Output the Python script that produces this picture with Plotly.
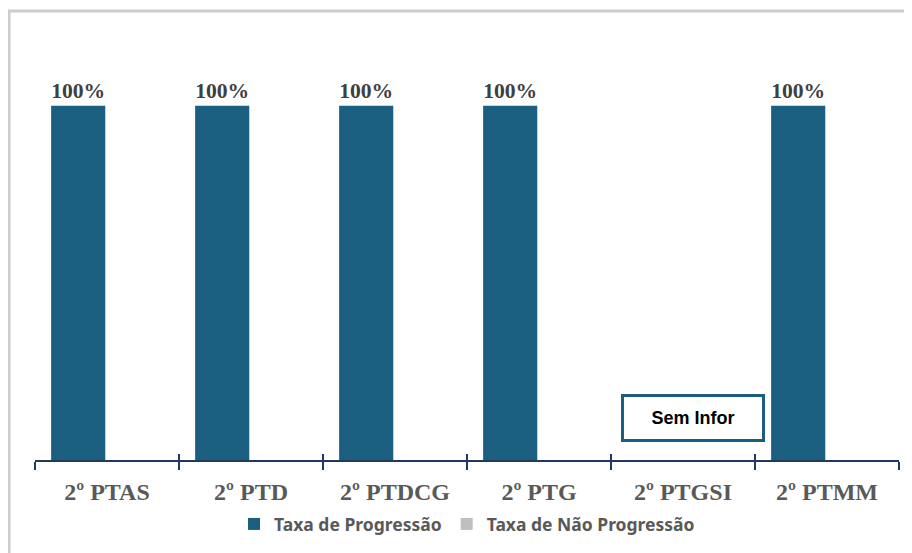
import plotly.graph_objects as go

categories = ["2º PTAS", "2º PTD", "2º PTDCG", "2º PTG", "2º PTGSI", "2º PTMM"]
taxa_progressao = [1.0, 1.0, 1.0, 1.0, None, 1.0]
taxa_nao_progressao = [0.0, 0.0, 0.0, 0.0, None, 0.0]
series_names = ["Taxa de Progressão", "Taxa de Não Progressão"]
sem_info_label = "Sem Infor"
sem_info_category = "2º PTGSI"
sem_info_y = 0.118

BAR = "#1a5f7f"
GREY_BAR = "#bfbfbf"
AXIS = "#1f3864"

fig = go.Figure()
fig.add_trace(go.Bar(
    x=categories, y=taxa_progressao, name=series_names[0],
    marker=dict(color=BAR, line=dict(width=0)),
    texttemplate="%{y:.0%}", textposition="outside", cliponaxis=False,
    textfont=dict(family="Liberation Serif", size=24, color="#404040", weight="bold"),
))
fig.add_trace(go.Bar(
    x=categories, y=taxa_nao_progressao, name=series_names[1],
    marker=dict(color=GREY_BAR, line=dict(width=0)),
))
# helper trace for the inner half of crossing tick marks
fig.add_trace(go.Scatter(x=categories, y=[None]*len(categories), xaxis="x2",
                         showlegend=False, hoverinfo="skip"))

fig.add_annotation(
    x=sem_info_category, y=sem_info_y, xref="x", yref="y", xshift=10,
    text="<b>" + sem_info_label + "</b>", showarrow=False,
    font=dict(family="Liberation Sans", size=18, color="#000000"),
    bgcolor="#ffffff", bordercolor=BAR, borderwidth=3, borderpad=2,
    width=134, height=38,
)

# outer light-grey frame
fig.add_shape(type="rect", xref="paper", yref="paper",
              x0=-0.0301, x1=1.2, y0=-0.6, y1=1.0563,
              line=dict(color="#cccccc", width=3), fillcolor="rgba(0,0,0,0)",
              layer="below")

fig.update_layout(
    width=904, height=545,
    margin=dict(l=27, r=13, t=27, b=92),
    paper_bgcolor="#ffffff", plot_bgcolor="#ffffff",
    barmode="group", bargap=0.2, bargroupgap=0.06,
    showlegend=True,
    legend=dict(orientation="h", x=0.5, xanchor="center", y=-0.148, yanchor="middle",
                font=dict(family="Noto Sans", size=17.5, color="#595959", weight="bold"),
                itemwidth=30, tracegroupgap=0, traceorder="normal"),
    xaxis=dict(
        type="category", showline=True, linecolor=AXIS, linewidth=2,
        ticks="outside", ticklen=8, tickwidth=2, tickcolor=AXIS,
        tickson="boundaries", showgrid=False, zeroline=False,
        tickfont=dict(family="Liberation Serif", size=24, color="#595959", weight="bold"),
        ticklabelstandoff=9,
    ),
    xaxis2=dict(
        type="category", overlaying="x", matches="x", side="bottom",
        anchor="y", showline=False,
        ticks="inside", ticklen=6, tickwidth=2, tickcolor=AXIS,
        tickson="boundaries", showticklabels=False, showgrid=False,
    ),
    yaxis=dict(visible=False, range=[0, 1.2], showgrid=False, zeroline=False),
)

fig.write_html("out.html")
